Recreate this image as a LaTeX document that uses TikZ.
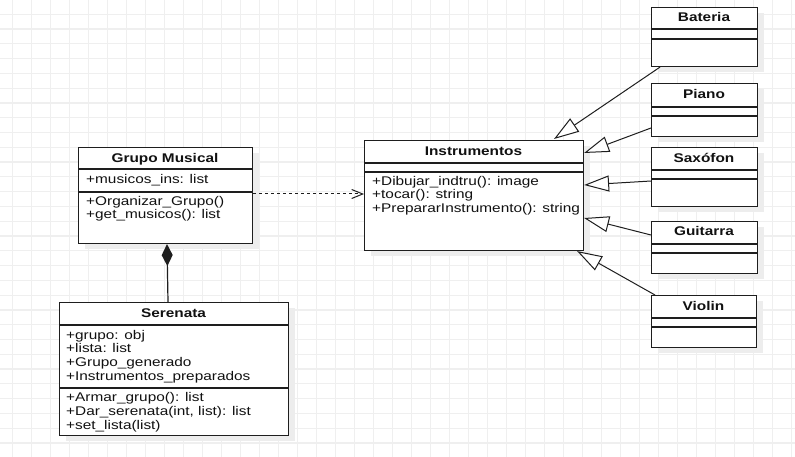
\documentclass[tikz,border=0pt]{standalone}
\usepackage{fontspec}
\setmainfont{Liberation Sans}[FakeStretch=1.22]
\usetikzlibrary{arrows.meta,calc,shadows}
\definecolor{gridc}{HTML}{EFEFEF}
\definecolor{linec}{HTML}{1E1E1E}
\definecolor{txtc}{HTML}{111111}
\definecolor{shadowc}{HTML}{EDEDED}
\tikzset{
  gridline/.style={draw=gridc, line width=1.2pt},
  cls/.style={draw=linec, fill=white, line width=1.1pt, inner sep=0pt, anchor=north west,
    drop shadow={shadow xshift=6pt, shadow yshift=-5pt, fill=shadowc, opacity=1}},
  sep/.style={draw=linec, line width=1.1pt},
  ttl/.style={font=\fontsize{12.6}{14}\selectfont\bfseries, inner sep=0pt, anchor=base, text=txtc},
  mem/.style={font=\fontsize{12.6}{14}\selectfont, inner sep=0pt, anchor=base west, text=txtc},
  inh/.style={draw=linec, line width=1pt, -{Triangle[open, length=25pt, width=16pt, fill=white]}},
  dep/.style={draw=linec, line width=1pt, dash pattern=on 3pt off 3pt, -{Straight Barb[length=11pt, width=9pt]}},
  comp/.style={draw=linec, line width=1.2pt, -{Diamond[length=22pt, width=11pt]}}
}
\begin{document}
\begin{tikzpicture}[x=1pt, y=-1pt]
\useasboundingbox (0,0) rectangle (795,457);
\fill[white] (0,0) rectangle (795,457);
% grid
\foreach \i in {0,...,41} \draw[gridline] ({12.3+19*\i},0) -- ({12.3+19*\i},457);
\foreach \j in {0,...,30} \draw[gridline] (0,{14.3+14.78*\j}) -- (795,{14.3+14.78*\j});

% class boxes
\node[cls, minimum width=174pt, minimum height=96pt] (grupo) at (78,147) {};
\node[cls, minimum width=229pt, minimum height=133pt] (serenata) at (59,302) {};
\node[cls, minimum width=219pt, minimum height=110pt] (instr) at (364,140) {};
\node[cls, minimum width=106pt, minimum height=59pt] (bateria) at (651,7) {};
\node[cls, minimum width=106pt, minimum height=53pt] (piano) at (651,83) {};
\node[cls, minimum width=106pt, minimum height=59pt] (saxofon) at (651,147) {};
\node[cls, minimum width=106pt, minimum height=52pt] (guitarra) at (651,221) {};
\node[cls, minimum width=105pt, minimum height=52pt] (violin) at (651,295) {};

% compartments
\draw[sep] ($(grupo.north west)+(0,22)$) -- ($(grupo.north east)+(0,22)$);
\draw[sep] ($(grupo.north west)+(0,45)$) -- ($(grupo.north east)+(0,45)$);
\draw[sep] ($(serenata.north west)+(0,23)$) -- ($(serenata.north east)+(0,23)$);
\draw[sep] ($(serenata.north west)+(0,86)$) -- ($(serenata.north east)+(0,86)$);
\draw[sep] ($(instr.north west)+(0,23)$) -- ($(instr.north east)+(0,23)$);
\draw[sep] ($(instr.north west)+(0,32)$) -- ($(instr.north east)+(0,32)$);
\draw[sep] ($(bateria.north west)+(0,22)$) -- ($(bateria.north east)+(0,22)$);
\draw[sep] ($(bateria.north west)+(0,32)$) -- ($(bateria.north east)+(0,32)$);
\draw[sep] ($(piano.north west)+(0,24)$) -- ($(piano.north east)+(0,24)$);
\draw[sep] ($(piano.north west)+(0,33)$) -- ($(piano.north east)+(0,33)$);
\draw[sep] ($(saxofon.north west)+(0,23)$) -- ($(saxofon.north east)+(0,23)$);
\draw[sep] ($(saxofon.north west)+(0,32)$) -- ($(saxofon.north east)+(0,32)$);
\draw[sep] ($(guitarra.north west)+(0,23)$) -- ($(guitarra.north east)+(0,23)$);
\draw[sep] ($(guitarra.north west)+(0,32)$) -- ($(guitarra.north east)+(0,32)$);
\draw[sep] ($(violin.north west)+(0,23)$) -- ($(violin.north east)+(0,23)$);
\draw[sep] ($(violin.north west)+(0,32)$) -- ($(violin.north east)+(0,32)$);

% texts
\node[ttl] (tGrupo) at (165,163) {Grupo Musical};
\node[mem] (g1) at (86,183.5) {+musicos\_ins: list};
\node[mem] (g2) at (86,205.5) {+Organizar\_Grupo()};
\node[mem] (g3) at (86,218.5) {+get\_musicos(): list};

\node[ttl] (tSer) at (173.5,317.5) {Serenata};
\node[mem] (s1) at (66,339) {+grupo: obj};
\node[mem] (s2) at (66,352.5) {+lista: list};
\node[mem] (s3) at (66,366) {+Grupo\_generado};
\node[mem] (s4) at (66,380) {+Instrumentos\_preparados};
\node[mem] (s5) at (66,401) {+Armar\_grupo(): list};
\node[mem] (s6) at (66,415) {+Dar\_serenata(int, list): list};
\node[mem] (s7) at (66,429) {+set\_lista(list)};

\node[ttl] (tIns) at (473.5,155.5) {Instrumentos};
\node[mem] (i1) at (372,185.5) {+Dibujar\_indtru(): image};
\node[mem] (i2) at (372,199) {+tocar(): string};
\node[mem] (i3) at (372,213) {+PrepararInstrumento(): string};

\node[ttl] (tBat) at (704,21.5) {Bateria};
\node[ttl] (tPia) at (704,99) {Piano};
\node[ttl] (tSax) at (704,162.5) {Saxófon};
\node[ttl] (tGui) at (704,236) {Guitarra};
\node[ttl] (tVio) at (703.5,310) {Violin};

% connectors
\draw[dep] ($(grupo.north east)+(0,47)$) -- ($(instr.north west)+(0,54)$);
\draw[comp] ($(serenata.north west)+(109,0)$) -- ($(grupo.south west)+(89,0)$);
\draw[inh] ($(bateria.south west)+(9,0)$) -- ($(instr.north west)+(190,-1)$);
\draw[inh] ($(piano.north west)+(0,45)$) -- ($(instr.north east)+(0,13)$);
\draw[inh] ($(saxofon.north west)+(0,34)$) -- ($(instr.north east)+(0,45)$);
\draw[inh] ($(guitarra.north west)+(0,14)$) -- ($(instr.north east)+(0,78)$);
\draw[inh] ($(violin.north west)+(4,0)$) -- ($(instr.south east)+(-7,0)$);
\end{tikzpicture}
\end{document}
